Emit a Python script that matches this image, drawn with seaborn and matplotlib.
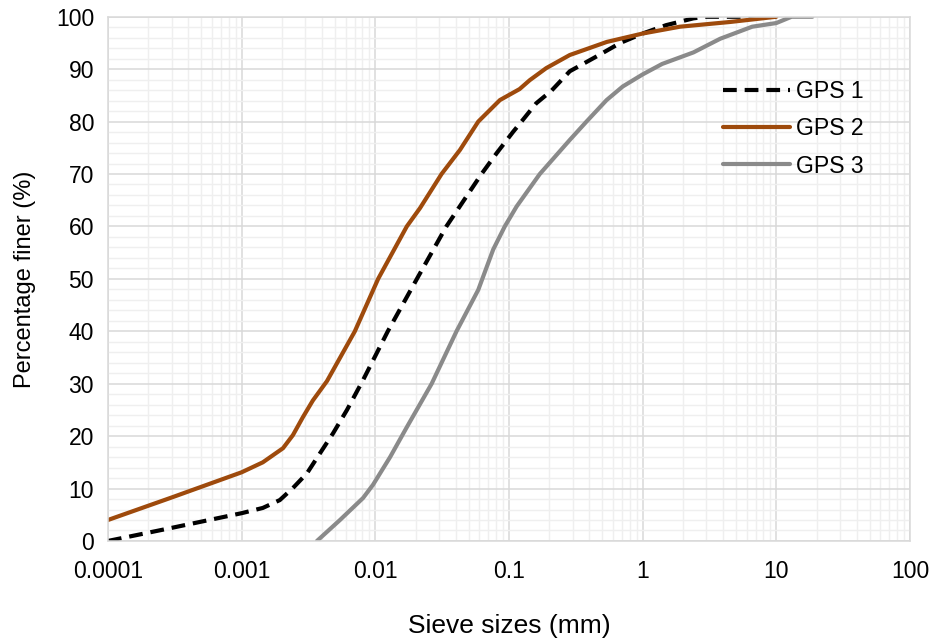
import numpy as np
import pandas as pd
import matplotlib
matplotlib.use("Agg")
import matplotlib.pyplot as plt
import seaborn as sns
from matplotlib.ticker import LogLocator, MultipleLocator, FixedLocator, FixedFormatter

# grain size distribution
gps1_size = [0.0001, 0.0003, 0.001, 0.00144, 0.00193, 0.00242, 0.00308, 0.00385,
             0.00482, 0.00614, 0.0081, 0.0124, 0.021, 0.034, 0.0623, 0.081, 0.107,
             0.124, 0.16, 0.208, 0.285, 0.45, 0.68, 1.0, 1.5, 2.4, 3.0, 10]
gps1_finer = [0, 2.5, 5.3, 6.3, 7.8, 10.1, 12.9, 16.7,
              20.5, 25, 30.7, 40, 50.5, 60, 70, 74, 78,
              80, 83.5, 85.9, 89.6, 92.4, 95, 96.8, 98.4, 99.7, 100, 100]

gps2_size = [0.0001, 0.0003, 0.001, 0.00144, 0.00204, 0.00242, 0.00287, 0.00341,
             0.00435, 0.00703, 0.0105, 0.0172, 0.0216, 0.0313, 0.043, 0.0589, 0.0855,
             0.12, 0.143, 0.19, 0.285, 0.54, 1.0, 1.9, 4.5, 10]
gps2_finer = [4, 8.3, 13.1, 15, 17.7, 20.2, 23.6, 26.8,
              30.5, 40, 50, 60, 63.5, 70, 74.6, 80, 84.1,
              86.2, 87.9, 90.2, 92.7, 95.2, 96.8, 98.1, 99, 100]

gps3_size = [0.00366, 0.00544, 0.0081, 0.0096, 0.0129, 0.0172, 0.0264, 0.0405,
             0.0589, 0.0762, 0.093, 0.114, 0.17, 0.285, 0.38, 0.537, 0.71,
             1.0, 1.4, 2.4, 3.8, 6.6, 10, 13, 18.6]
gps3_finer = [0, 4, 8.2, 10.7, 16, 21.7, 30, 40,
              47.9, 55.6, 60, 63.8, 70, 76.5, 80, 84.1, 86.7,
              89, 91, 93.2, 95.8, 98.1, 98.8, 100, 100]

x_ticks = [0.0001, 0.001, 0.01, 0.1, 1, 10, 100]
x_tick_labels = ["0.0001", "0.001", "0.01", "0.1", "1", "10", "100"]

sns.set_theme(style="white")
plt.rcParams['font.family'] = ['Liberation Sans', 'DejaVu Sans']
plt.rcParams['text.color'] = 'black'
plt.rcParams['axes.labelcolor'] = 'black'

fig, ax = plt.subplots(figsize=(9.34, 6.44), dpi=100)
fig.subplots_adjust(left=0.1156, right=0.9743, bottom=0.16, top=0.974)

series = [
    ("GPS 1", gps1_size, gps1_finer, "black", (0, (3.3, 1.9))),
    ("GPS 2", gps2_size, gps2_finer, "#9E4A0C", "-"),
    ("GPS 3", gps3_size, gps3_finer, "#8A8A8A", "-"),
]
for name, xs, ys, col, ls in series:
    sns.lineplot(x=xs, y=ys, ax=ax, color=col, linewidth=3.0, linestyle=ls,
                 label=name, sort=False)

ax.set_xscale("log")
ax.set_xlim(0.0001, 100)
ax.set_ylim(0, 100)
ax.xaxis.set_major_locator(FixedLocator(x_ticks))
ax.xaxis.set_major_formatter(FixedFormatter(x_tick_labels))
ax.xaxis.set_minor_locator(LogLocator(base=10, subs=np.arange(2, 10), numticks=100))
ax.yaxis.set_major_locator(MultipleLocator(10))
ax.yaxis.set_minor_locator(MultipleLocator(2))

ax.grid(which="major", color="#D9D9D9", linewidth=1.1)
ax.grid(which="minor", color="#EFEFEF", linewidth=1.0)
ax.set_axisbelow(True)
for sp in ax.spines.values():
    sp.set_color("#D9D9D9")
    sp.set_linewidth(1.1)

ax.tick_params(axis="both", which="both", length=0, labelsize=16.5, colors="black")
ax.tick_params(axis="x", pad=14)
ax.tick_params(axis="y", pad=10)
ax.set_xlabel("Sieve sizes (mm)", fontsize=19, labelpad=22, color="black")
ax.set_ylabel("Percentage finer (%)", fontsize=17, labelpad=14, color="black")

leg = ax.legend(loc="upper left", bbox_to_anchor=(0.741, 0.919), frameon=False,
                fontsize=16.6, handlelength=2.9, handletextpad=0.28, labelspacing=0.62,
                labelcolor="black")

fig.savefig("out.png", dpi=100)
